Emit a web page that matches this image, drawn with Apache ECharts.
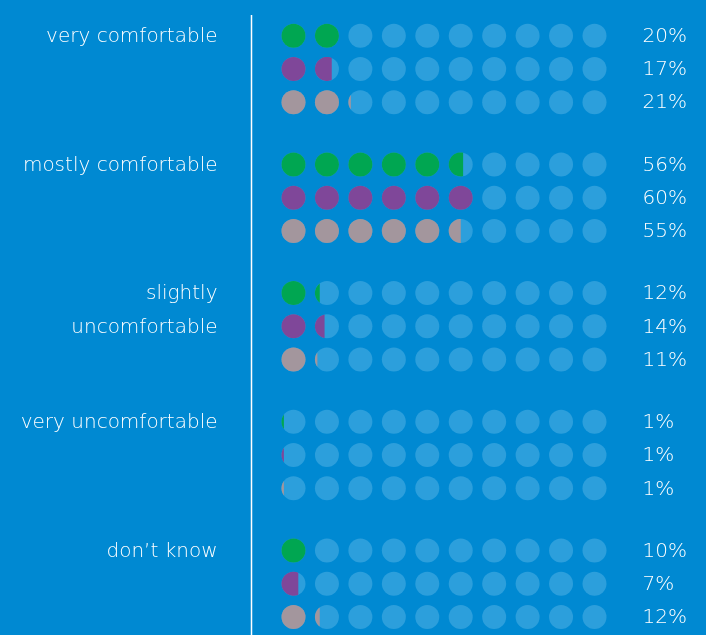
<!DOCTYPE html>
<html>
<head>
<meta charset="utf-8">
<script src="https://cdn.jsdelivr.net/npm/echarts@6/dist/echarts.min.js"></script>
<style>
  html, body { margin: 0; padding: 0; background: #0089d2; }
  #chart { width: 706px; height: 635px; }
</style>
</head>
<body>
<div id="chart"></div>
<script>
// Answer categories (one block of three dot rows each)
const categories = ['very comfortable', 'mostly comfortable', 'slightly\nuncomfortable', 'very uncomfortable', 'don\u2019t know'];
// Percentages for the three respondent rows in every block
const rowGreen = [20, 56, 12, 1, 10];
const rowPurple = [17, 60, 14, 1, 7];
const rowGrey = [21, 55, 11, 1, 12];
const rowSeries = [rowGreen, rowPurple, rowGrey];
const rowColors = ['#00a651', '#7f4799', '#a3969d'];
// Each dot is worth ten percent; ten dots per row
const dotColumns = [0, 1, 2, 3, 4, 5, 6, 7, 8, 9];

const GROUP_STEP = 3.87;   // vertical distance between blocks, in row units
const DOT_R = 12;
const EMPTY_COLOR = '#2c9fdc';
const TEXT_COLOR = '#ffffff';
const FONT = '"DejaVu Sans"';

const data = [];
categories.forEach((c, g) => {
  rowSeries.forEach((vals, r) => data.push([g, r, vals[g]]));
});

function segmentPoints(cx, cy, R, frac) {
  // region of the circle lying left of a vertical chord
  const xc = cx - R + frac * 2 * R;
  const a = Math.acos(Math.max(-1, Math.min(1, (xc - cx) / R)));
  const pts = [];
  const n = 48;
  for (let i = 0; i <= n; i++) {
    const t = a + (2 * Math.PI - 2 * a) * i / n;
    pts.push([cx + R * Math.cos(t), cy - R * Math.sin(t)]);
  }
  return pts;
}

function renderItem(params, api) {
  const g = api.value(0), r = api.value(1), pct = api.value(2);
  const ypos = g * GROUP_STEP + r;
  const color = rowColors[r];
  const children = [];
  dotColumns.forEach(c => {
    const p = api.coord([c, ypos]);
    children.push({ type: 'circle', shape: { cx: p[0], cy: p[1], r: DOT_R }, style: { fill: EMPTY_COLOR } });
    const frac = Math.max(0, Math.min(1, pct / 10 - c));
    if (frac >= 0.999) {
      children.push({ type: 'circle', shape: { cx: p[0], cy: p[1], r: DOT_R }, style: { fill: color } });
    } else if (frac > 0.001) {
      children.push({ type: 'polygon', shape: { points: segmentPoints(p[0], p[1], DOT_R, frac) }, style: { fill: color } });
    }
  });
  const pEnd = api.coord([dotColumns[dotColumns.length - 1], ypos]);
  children.push({
    type: 'text',
    style: { x: pEnd[0] + 48, y: pEnd[1] + 1, text: pct + '%', fill: TEXT_COLOR, font: '200 20px ' + FONT, align: 'left', verticalAlign: 'middle' }
  });
  if (r === 0) {
    const p0 = api.coord([0, ypos]);
    const rowH = api.size([0, 1])[1];
    children.push({
      type: 'text',
      style: { x: p0[0] - 76, y: p0[1] - rowH / 2 + 1, text: categories[g], fill: TEXT_COLOR, font: '200 20px ' + FONT, lineHeight: rowH, align: 'right', verticalAlign: 'top' }
    });
  }
  return { type: 'group', children: children };
}

const chart = echarts.init(document.getElementById('chart'));
chart.setOption({
  backgroundColor: '#0089d2',
  animation: false,
  grid: { left: 293.5, right: 111.5, top: 35.7, bottom: 18 },
  xAxis: { type: 'value', min: 0, max: 9, show: false },
  yAxis: { type: 'value', min: 0, max: 4 * GROUP_STEP + 2, inverse: true, show: false },
  graphic: [{
    type: 'line', silent: true,
    shape: { x1: 251.5, y1: 15, x2: 251.5, y2: 635 },
    style: { stroke: '#ffffff', lineWidth: 1.5 }
  }],
  series: [{
    type: 'custom',
    renderItem: renderItem,
    data: data,
    clip: false
  }]
});
</script>
</body>
</html>
